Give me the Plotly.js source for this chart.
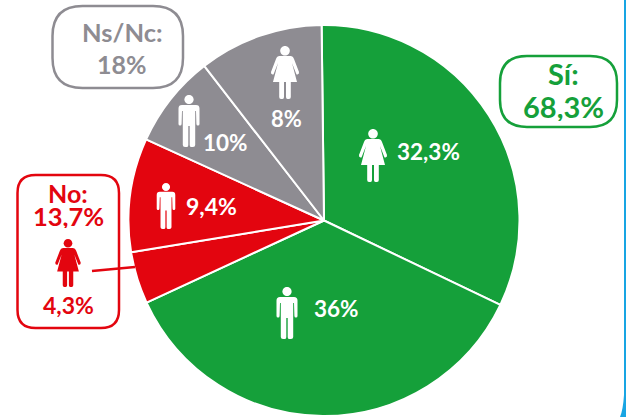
<!DOCTYPE html>
<html><head><meta charset="utf-8">
<script src="https://cdn.plot.ly/plotly-3.0.1.min.js"></script>
<style>html,body{margin:0;padding:0;background:#fff;overflow:hidden}</style>
</head><body><div id="chart" style="width:626px;height:417px"></div>
<script>
const sliceNames = ["Sí mujeres","Sí hombres","No mujeres","No hombres","Ns/Nc hombres","Ns/Nc mujeres"];
// Slice sizes as drawn in the picture
const sliceValues = [32.3,36,4.3,9.4,7.7,10.3];
const sliceColors = ["#15a03a","#15a03a","#e3050f","#e3050f","#8e8c92","#8e8c92"];

const W=626,H=417;
const px=x=>(x/W).toFixed(5), py=y=>(1-y/H).toFixed(5);
function P(cmds){ // [cmd, x,y, x,y ...] in pixel space -> paper space path
  return cmds.map(c=>{let s=c[0];for(let i=1;i<c.length;i+=2)s+=px(c[i])+','+py(c[i+1])+' ';return s;}).join('')+'Z';
}
function circle(cx,cy,r){const k=r*0.552;return P([
  ['M',cx-r,cy],['C',cx-r,cy-k,cx-k,cy-r,cx,cy-r],['C',cx+k,cy-r,cx+r,cy-k,cx+r,cy],
  ['C',cx+r,cy+k,cx+k,cy+r,cx,cy+r],['C',cx-k,cy+r,cx-r,cy+k,cx-r,cy]]);}
function fillShape(path,color){return {type:'path',xref:'paper',yref:'paper',path,fillcolor:color,line:{width:0}};}
function male(cx,top,h,color){const s=h/52;const X=v=>cx+v*s,Y=v=>top+v*s;
  return [fillShape(circle(cx,Y(4.5),4.6*s),color),
   fillShape(P([['M',X(-7),Y(10)],['L',X(7),Y(10)],['Q',X(10.5),Y(10),X(10.5),Y(13.5)],['L',X(10.5),Y(29)],['Q',X(10.5),Y(30.5),X(9),Y(30.5)],['L',X(8.6),Y(30.5)],
    ['Q',X(7.6),Y(30.5),X(7.4),Y(29)],['L',X(7),Y(16)],['L',X(6.2),Y(16)],['L',X(6.2),Y(50)],['Q',X(6.2),Y(52),X(4),Y(52)],['L',X(2),Y(52)],['Q',X(0.7),Y(52),X(0.7),Y(50)],
    ['L',X(0.7),Y(31)],['L',X(-0.7),Y(31)],['L',X(-0.7),Y(50)],['Q',X(-0.7),Y(52),X(-2),Y(52)],['L',X(-4),Y(52)],['Q',X(-6.2),Y(52),X(-6.2),Y(50)],
    ['L',X(-6.2),Y(16)],['L',X(-7),Y(16)],['L',X(-7.4),Y(29)],['Q',X(-7.6),Y(30.5),X(-8.6),Y(30.5)],['L',X(-9),Y(30.5)],['Q',X(-10.5),Y(30.5),X(-10.5),Y(29)],['L',X(-10.5),Y(13.5)],['Q',X(-10.5),Y(10),X(-7),Y(10)]]),color)];
}
function female(cx,top,h,color){const s=h/53;const X=v=>cx+v*s,Y=v=>top+v*s;
  return [fillShape(circle(cx,Y(4.7),4.8*s),color),
   fillShape(P([['M',X(-5.5),Y(10)],['L',X(5.5),Y(10)],['Q',X(8),Y(10),X(9),Y(13)],['L',X(14),Y(26)],['Q',X(14.3),Y(28),X(12.5),Y(28.5)],['L',X(11.5),Y(28.5)],['L',X(7),Y(17)],
    ['L',X(12),Y(36)],['L',X(5.8),Y(36)],['L',X(5.8),Y(51)],['Q',X(5.8),Y(53),X(4),Y(53)],['L',X(2.5),Y(53)],['Q',X(1),Y(53),X(1),Y(51)],['L',X(1),Y(36)],
    ['L',X(-1),Y(36)],['L',X(-1),Y(51)],['Q',X(-1),Y(53),X(-2.5),Y(53)],['L',X(-4),Y(53)],['Q',X(-5.8),Y(53),X(-5.8),Y(51)],['L',X(-5.8),Y(36)],['L',X(-12),Y(36)],['L',X(-7),Y(17)],
    ['L',X(-11.5),Y(28.5)],['L',X(-12.5),Y(28.5)],['Q',X(-14.3),Y(28),X(-14),Y(26)],['L',X(-9),Y(13)],['Q',X(-8),Y(10),X(-5.5),Y(10)]]),color)];
}
function box(x0,y0,x1,y1,r,color){return {type:'path',xref:'paper',yref:'paper',line:{color,width:2.5},fillcolor:'rgba(0,0,0,0)',
  path:P([['M',x0+r,y0],['L',x1-r,y0],['Q',x1,y0,x1,y0+r],['L',x1,y1-r],['Q',x1,y1,x1-r,y1],['L',x0+r,y1],['Q',x0,y1,x0,y1-r],['L',x0,y0+r],['Q',x0,y0,x0+r,y0]])};}
function txt(text,x,y,size,color,boxH){const a={text,x:x/W,y:1-y/H,xref:'paper',yref:'paper',xanchor:'center',yanchor:'middle',showarrow:false,
  font:{family:'Lato, "Open Sans", sans-serif',size,color,weight:700}};if(boxH)a.height=boxH;return a;}

const GREEN='#15a03a',RED='#e3050f',GRAY='#8e8c92',BLUE='#18a5e3';
const shapes=[
  box(52.5,6,183,88,30,GRAY),
  box(500,56,617,127,27,GREEN),
  box(17.5,175,119,328,18,RED),
  {type:'line',xref:'paper',yref:'paper',x0:92/W,y0:1-271/H,x1:135/W,y1:1-267/H,line:{color:RED,width:2.5}},
  {type:'rect',xref:'paper',yref:'paper',x0:624/W,x1:1,y0:0,y1:1,fillcolor:BLUE,line:{width:0}},
  fillShape(P([['M',620,417],['Q',623,410,624,395],['L',626,395],['L',626,417]]),BLUE),
  ...male(287,287,52,'#fff'),
  ...male(189,95,52,'#fff'),
  ...male(166,183,46,'#fff'),
  ...female(373,129,53,'#fff'),
  ...female(285,46,53,'#fff'),
  ...female(68,239,48,RED)
];
const annotations=[
  txt('Ns/Nc:',122,32,25.5,GRAY), txt('18%',122,64,25,GRAY),
  txt('Sí:',563,73,29,GREEN,29), txt('68,3%',563,106,29,GREEN,30),
  txt('No:',68,192,25,RED,23), txt('13,7%',68,216,25.5,RED,24), txt('4,3%',68,305,23,RED),
  txt('32,3%',428,152,22.5,'#fff'), txt('36%',336,308,22.5,'#fff'), txt('9,4%',211,206,23,'#fff'),
  txt('10%',225,142,22.5,'#fff'), txt('8%',286,118,22,'#fff')
];
Plotly.newPlot('chart',[{type:'pie',labels:sliceNames,values:sliceValues,sort:false,direction:'clockwise',rotation:-0.7,
  marker:{colors:sliceColors,line:{color:'#fff',width:2}},textinfo:'none',hoverinfo:'label+value',
  domain:{x:[(324-195.5)/W,(324+195.5)/W],y:[1-(220.5+195.5)/H,1-(220.5-195.5)/H]}}],
 {width:W,height:H,margin:{l:0,r:0,t:0,b:0},showlegend:false,paper_bgcolor:'#fff',shapes,annotations},
 {displayModeBar:false});
</script></body></html>
